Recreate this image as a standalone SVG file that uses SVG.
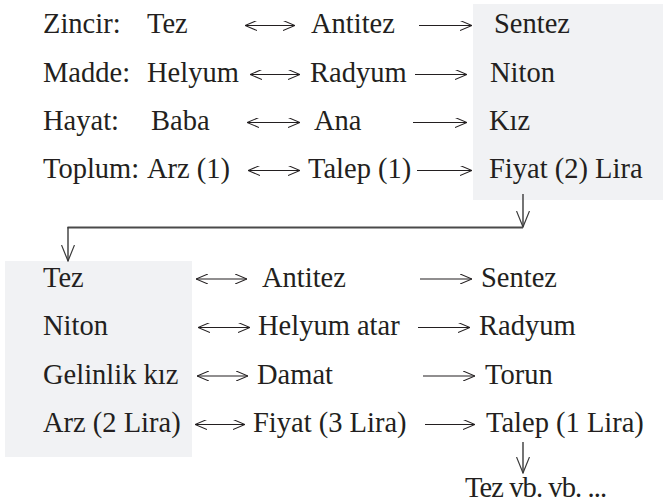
<svg xmlns="http://www.w3.org/2000/svg" width="663" height="502" viewBox="0 0 663 502">
<style>
.t{font-size:28.5px;fill:#231f20}
.a{stroke:#231f20;stroke-width:1.2;fill:none}
.c{stroke:#3a3a3a;stroke-width:1.4;fill:none}
.h{stroke:#4a4a4a;stroke-width:2;fill:none}
.box{fill:#f1f2f4}
</style>
<defs>
<marker id="ah" viewBox="0 0 12 10" markerWidth="12" markerHeight="10" refX="12" refY="5" orient="auto-start-reverse" markerUnits="userSpaceOnUse">
<path d="M0,0 L12,5 L0,10" fill="none" stroke="#231f20" stroke-width="1.1"/>
</marker>
<marker id="vh" viewBox="0 0 14 17" markerWidth="14" markerHeight="17" refX="7" refY="16" orient="0" markerUnits="userSpaceOnUse">
<path d="M0.5,0 L7,16 L13.5,0" fill="none" stroke="#3a3a3a" stroke-width="1.2"/>
</marker>
</defs>
<rect id="topbox" class="box" x="473" y="4" width="190" height="196"/>
<rect id="bottombox" class="box" x="5" y="261" width="187" height="196"/>
<g id="connectors">
<line class="a" x1="245" y1="25.5" x2="295" y2="25.5" marker-start="url(#ah)" marker-end="url(#ah)"/>
<line class="a" x1="419" y1="25.5" x2="472" y2="25.5" marker-end="url(#ah)"/>
<line class="a" x1="250" y1="74.5" x2="300" y2="74.5" marker-start="url(#ah)" marker-end="url(#ah)"/>
<line class="a" x1="415" y1="74.5" x2="467" y2="74.5" marker-end="url(#ah)"/>
<line class="a" x1="247" y1="122.5" x2="300" y2="122.5" marker-start="url(#ah)" marker-end="url(#ah)"/>
<line class="a" x1="413" y1="122.5" x2="467" y2="122.5" marker-end="url(#ah)"/>
<line class="a" x1="248" y1="170.5" x2="300" y2="170.5" marker-start="url(#ah)" marker-end="url(#ah)"/>
<line class="a" x1="417" y1="170.5" x2="472" y2="170.5" marker-end="url(#ah)"/>
<line class="c" x1="523" y1="194" x2="523" y2="227" marker-end="url(#vh)"/>
<line class="h" x1="523" y1="227.5" x2="67.5" y2="227.5"/>
<line class="c" x1="68" y1="227" x2="68" y2="261" marker-end="url(#vh)"/>
<line class="a" x1="196" y1="279" x2="247" y2="279" marker-start="url(#ah)" marker-end="url(#ah)"/>
<line class="a" x1="420" y1="279" x2="472" y2="279" marker-end="url(#ah)"/>
<line class="a" x1="198" y1="327.5" x2="250" y2="327.5" marker-start="url(#ah)" marker-end="url(#ah)"/>
<line class="a" x1="418" y1="327.5" x2="470" y2="327.5" marker-end="url(#ah)"/>
<line class="a" x1="197" y1="376" x2="248" y2="376" marker-start="url(#ah)" marker-end="url(#ah)"/>
<line class="a" x1="423" y1="376" x2="475" y2="376" marker-end="url(#ah)"/>
<line class="a" x1="195" y1="424.5" x2="245" y2="424.5" marker-start="url(#ah)" marker-end="url(#ah)"/>
<line class="a" x1="425" y1="424.5" x2="475" y2="424.5" marker-end="url(#ah)"/>
<line class="c" x1="523" y1="442" x2="523" y2="473" marker-end="url(#vh)"/>
</g>
<g class="t" font-family="'Liberation Serif', 'Times New Roman', Times, serif">
<g id="row1"><text x="43" y="33">Zincir:</text><text x="147" y="33">Tez</text><text x="311" y="33">Antitez</text><text x="494" y="33">Sentez</text></g>
<g id="row2"><text x="43" y="82">Madde:</text><text x="147" y="82">Helyum</text><text x="310" y="82">Radyum</text><text x="490" y="82">Niton</text></g>
<g id="row3"><text x="43" y="130">Hayat:</text><text x="151" y="130">Baba</text><text x="314" y="130">Ana</text><text x="489" y="130">Kız</text></g>
<g id="row4"><text x="43" y="178">Toplum:</text><text x="147" y="178">Arz (1)</text><text x="308" y="178">Talep (1)</text><text x="489" y="178">Fiyat (2) Lira</text></g>
<g id="row5"><text x="43" y="286.5">Tez</text><text x="262" y="286.5">Antitez</text><text x="481" y="286.5">Sentez</text></g>
<g id="row6"><text x="43" y="335">Niton</text><text x="258" y="335">Helyum atar</text><text x="479" y="335">Radyum</text></g>
<g id="row7"><text x="43" y="383.5">Gelinlik kız</text><text x="257" y="383.5">Damat</text><text x="485" y="383.5">Torun</text></g>
<g id="row8"><text x="43" y="432">Arz (2 Lira)</text><text x="253" y="432">Fiyat (3 Lira)</text><text x="486" y="432">Talep (1 Lira)</text></g>
<g id="end"><text x="465" y="496.5" textLength="142" lengthAdjust="spacing">Tez vb. vb. ...</text></g>
</g>
</svg>
